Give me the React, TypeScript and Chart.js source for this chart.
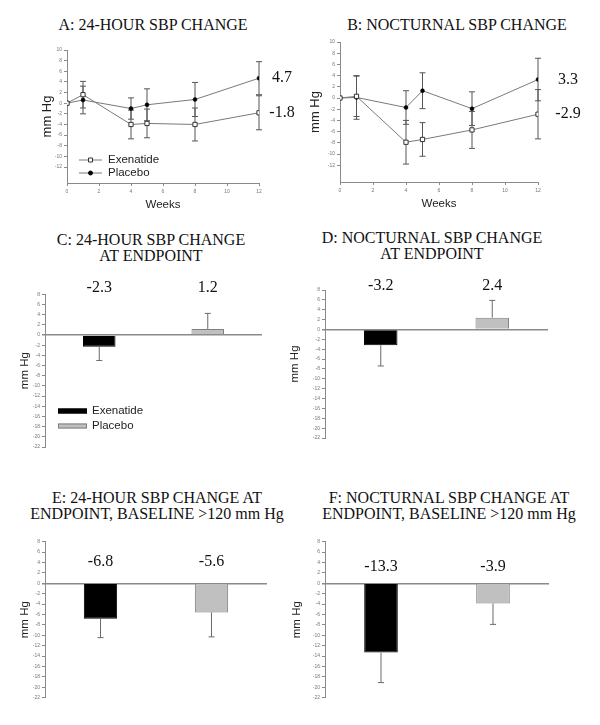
import React, { useEffect, useRef } from 'react';
import { Chart, registerables } from 'chart.js';

Chart.register(...registerables);

// ---------- DATA ----------
const weeks = [0, 1, 4, 5, 8, 12];

// Panel A: 24-hour SBP change over time
const exenA = [0, 1.6, -4.0, -3.8, -4.0, -1.8];
const exenAErr = [0, 2.5, 2.7, 2.7, 3.1, 3.2];
const placA = [0, 0.6, -1.0, -0.3, 0.7, 4.7];
const placAErr = [0, 2.6, 2.0, 3.0, 3.2, 3.1];

// Panel B: nocturnal SBP change over time
const exenB = [0, 0.3, -7.9, -7.4, -5.7, -2.9];
const exenBErr = [0, 3.6, 3.9, 3.0, 3.3, 4.4];
const placB = [0, 0.1, -1.7, 1.3, -1.9, 3.3];
const placBErr = [0, 3.9, 3.0, 3.2, 3.0, 3.8];

// Bar panels (Exenatide, Placebo)
const groups = ['Exenatide', 'Placebo'];
const barC = [-2.3, 1.2];
const barCErr = [2.7, 3.05];
const barD = [-3.2, 2.4];
const barDErr = [4.2, 3.5];
const barE = [-6.8, -5.6];
const barEErr = [3.65, 4.7];
const barF = [-13.3, -3.9];
const barFErr = [5.8, 4.0];

const lineYTickMin = -15;
const lineYTickMax = 10;
const barYMin = -22;
const barYMax = 8;

// ---------- STYLE ----------
const SANS = '"Liberation Sans", Arial, Helvetica, sans-serif';
const SERIF = '"Liberation Serif", "Times New Roman", Times, serif';
const AXIS = '#8a8a8a';
const TICKTXT = '#777';

const errorBarsPlugin = {
  id: 'errorBarsCustom',
  beforeDatasetsDraw(chart: any) {
    drawErrors(chart, 'line');
  },
  afterDatasetsDraw(chart: any) {
    drawErrors(chart, 'bar');
  },
};

function drawErrors(chart: any, kind: string) {
  const ctx = chart.ctx;
  const yScale = chart.scales.y;
  chart.data.datasets.forEach((ds: any, di: number) => {
    const meta = chart.getDatasetMeta(di);
    if (meta.type !== kind || !ds.errors) return;
    ctx.save();
    ctx.strokeStyle = ds.errorColor || '#555';
    ctx.lineWidth = 1;
    meta.data.forEach((el: any, i: number) => {
      const err = ds.errors[i];
      if (!err) return;
      const raw = ds.data[i];
      const v = typeof raw === 'number' ? raw : raw.y;
      const x = el.x;
      const cap = 3;
      let lo: number, hi: number;
      if (ds.errorMode === 'away') {
        lo = v;
        hi = v >= 0 ? v + err : v - err;
      } else {
        lo = v - err;
        hi = v + err;
      }
      const yLo = yScale.getPixelForValue(lo);
      const yHi = yScale.getPixelForValue(hi);
      ctx.beginPath();
      ctx.moveTo(x, yLo);
      ctx.lineTo(x, yHi);
      if (ds.errorMode === 'away') {
        ctx.moveTo(x - cap, yHi);
        ctx.lineTo(x + cap, yHi);
      } else {
        ctx.moveTo(x - cap, yLo);
        ctx.lineTo(x + cap, yLo);
        ctx.moveTo(x - cap, yHi);
        ctx.lineTo(x + cap, yHi);
      }
      ctx.stroke();
    });
    ctx.restore();
  });
}

function lineTextPlugin(labelOffset: number, legend: boolean) {
  return {
    id: 'lineText',
    afterDatasetsDraw(chart: any) {
      const ctx = chart.ctx;
      const area = chart.chartArea;
      const yScale = chart.scales.y;
      ctx.save();
      ctx.fillStyle = '#111';
      ctx.font = `16px ${SERIF}`;
      ctx.textAlign = 'center';
      ctx.textBaseline = 'middle';
      chart.data.datasets.forEach((ds: any) => {
        const last = ds.data[ds.data.length - 1].y;
        ctx.fillText(last.toFixed(1), area.right + labelOffset, yScale.getPixelForValue(last));
      });
      if (legend) {
        chart.data.datasets.forEach((ds: any, i: number) => {
          const y = area.top + 110 + i * 13;
          const x0 = area.left + 12;
          const x1 = area.left + 35;
          ctx.strokeStyle = ds.borderColor;
          ctx.lineWidth = 1;
          ctx.beginPath();
          ctx.moveTo(x0, y);
          ctx.lineTo(x1, y);
          ctx.stroke();
          const mx = (x0 + x1) / 2;
          ctx.fillStyle = ds.pointBackgroundColor;
          ctx.strokeStyle = ds.pointBorderColor;
          ctx.beginPath();
          if (ds.pointStyle === 'rect') {
            ctx.rect(mx - 2, y - 2, 4, 4);
          } else {
            ctx.arc(mx, y, 2, 0, Math.PI * 2);
          }
          ctx.fill();
          ctx.stroke();
          ctx.fillStyle = '#222';
          ctx.font = `11.5px ${SANS}`;
          ctx.textAlign = 'left';
          ctx.fillText(ds.label, area.left + 41, y);
        });
      }
      ctx.restore();
    },
  };
}

function barTextPlugin(labelLevel: number, legend: boolean) {
  return {
    id: 'barText',
    afterDatasetsDraw(chart: any) {
      const ctx = chart.ctx;
      const area = chart.chartArea;
      const yScale = chart.scales.y;
      const ds = chart.data.datasets[0];
      const meta = chart.getDatasetMeta(0);
      ctx.save();
      ctx.fillStyle = '#111';
      ctx.font = `16px ${SERIF}`;
      ctx.textAlign = 'center';
      ctx.textBaseline = 'middle';
      meta.data.forEach((el: any, i: number) => {
        ctx.fillText(ds.data[i].toFixed(1), el.x, yScale.getPixelForValue(labelLevel));
      });
      if (legend) {
        chart.data.labels.forEach((lab: string, i: number) => {
          const y = area.top + 116.7 + i * 15;
          ctx.fillStyle = ds.backgroundColor[i];
          ctx.strokeStyle = ds.borderColor[i];
          ctx.lineWidth = 1;
          ctx.fillRect(area.left + 13, y - 2.5, 29, 5);
          ctx.strokeRect(area.left + 13.5, y - 2, 28, 4);
          ctx.fillStyle = '#222';
          ctx.font = `11.5px ${SANS}`;
          ctx.textAlign = 'left';
          ctx.fillText(lab, area.left + 47, y);
        });
      }
      ctx.restore();
    },
  };
}

type Pad = { left: number; right: number; top: number; bottom: number };

function lineConfig(
  exen: number[], exenErr: number[], plac: number[], placErr: number[],
  pad: Pad, wy: number, hx: number, labelOffset: number, legend: boolean
): any {
  return {
    type: 'line',
    data: {
      datasets: [
        {
          label: 'Exenatide',
          data: weeks.map((w, i) => ({ x: w, y: exen[i] })),
          errors: exenErr,
          errorColor: '#555',
          borderColor: '#7a7a7a',
          borderWidth: 1,
          pointStyle: 'rect',
          pointRadius: 3,
          pointBackgroundColor: '#ffffff',
          pointBorderColor: '#333',
          pointBorderWidth: 1,
          fill: false,
          tension: 0,
        },
        {
          label: 'Placebo',
          data: weeks.map((w, i) => ({ x: w, y: plac[i] })),
          errors: placErr,
          errorColor: '#555',
          borderColor: '#7a7a7a',
          borderWidth: 1,
          pointStyle: 'circle',
          pointRadius: 2,
          pointBackgroundColor: '#000',
          pointBorderColor: '#000',
          pointBorderWidth: 0.5,
          fill: false,
          tension: 0,
        },
      ],
    },
    options: {
      responsive: false,
      maintainAspectRatio: false,
      animation: false,
      layout: { padding: pad },
      plugins: { legend: { display: false }, tooltip: { enabled: false } },
      scales: {
        x: {
          type: 'linear',
          min: 0,
          max: 12,
          ticks: { stepSize: 2, font: { size: 5, family: SANS }, color: TICKTXT, padding: 3, maxRotation: 0 },
          grid: { drawOnChartArea: false, tickLength: 3, color: AXIS },
          border: { color: AXIS },
          title: { display: true, text: 'Weeks', font: { size: 11.5, family: SANS }, color: '#222', padding: 0 },
          afterFit(s: any) { s.height = hx; },
        },
        y: {
          type: 'linear',
          min: lineYTickMin,
          max: lineYTickMax,
          ticks: { stepSize: 2, font: { size: 5, family: SANS }, color: TICKTXT, padding: 2 },
          afterBuildTicks(s: any) { s.ticks = s.ticks.filter((t: any) => t.value % 2 === 0); },
          grid: { drawOnChartArea: false, tickLength: 3, color: AXIS },
          border: { color: AXIS },
          title: { display: true, text: 'mm Hg', font: { size: 13, family: SANS }, color: '#222', padding: 0 },
          afterFit(s: any) { s.width = wy; },
        },
      },
    },
    plugins: [errorBarsPlugin, lineTextPlugin(labelOffset, legend)],
  };
}

function barConfig(vals: number[], errs: number[], pad: Pad, wy: number, labelLevel: number, legend: boolean): any {
  return {
    type: 'bar',
    data: {
      labels: groups,
      datasets: [
        {
          data: vals,
          errors: errs,
          errorMode: 'away',
          errorColor: '#6a6a6a',
          backgroundColor: ['#000000', '#c0c0c0'],
          borderColor: ['#000000', '#7f7f7f'],
          borderWidth: 1,
          barPercentage: 0.3,
          categoryPercentage: 1,
        },
      ],
    },
    options: {
      responsive: false,
      maintainAspectRatio: false,
      animation: false,
      layout: { padding: pad },
      plugins: { legend: { display: false }, tooltip: { enabled: false } },
      scales: {
        x: { display: false },
        y: {
          type: 'linear',
          min: barYMin,
          max: barYMax,
          ticks: { stepSize: 2, font: { size: 5, family: SANS }, color: TICKTXT, padding: 2 },
          grid: {
            drawOnChartArea: true,
            color: (c: any) => (c.tick && c.tick.value === 0 ? '#8a8a8a' : 'rgba(0,0,0,0)'),
            lineWidth: (c: any) => (c.tick && c.tick.value === 0 ? 1.5 : 1),
            tickColor: AXIS,
            tickLength: 3,
          },
          border: { color: AXIS },
          title: { display: true, text: 'mm Hg', font: { size: 11.5, family: SANS }, color: '#222', padding: 0 },
          afterFit(s: any) { s.width = wy; },
        },
      },
    },
    plugins: [errorBarsPlugin, barTextPlugin(labelLevel, legend)],
  };
}

function Panel(props: { left: number; top: number; width: number; height: number; config: () => any }) {
  const ref = useRef<HTMLCanvasElement | null>(null);
  useEffect(() => {
    if (!ref.current) return;
    const chart = new Chart(ref.current, props.config());
    return () => chart.destroy();
  }, []);
  return (
    <canvas
      ref={ref}
      width={props.width}
      height={props.height}
      style={{ position: 'absolute', left: props.left, top: props.top, width: props.width, height: props.height }}
    />
  );
}

function Title(props: { cx: number; cy: number; lines: string[] }) {
  return (
    <div
      style={{
        position: 'absolute',
        left: props.cx - 170,
        width: 340,
        top: props.cy - 8,
        textAlign: 'center',
        fontFamily: SERIF,
        fontSize: 16,
        lineHeight: '16px',
        color: '#111',
        whiteSpace: 'nowrap',
      }}
    >
      {props.lines.map((l, i) => (
        <div key={i}>{l}</div>
      ))}
    </div>
  );
}

export default function App() {
  return (
    <div style={{ position: 'absolute', left: 0, top: 0, width: 600, height: 725, background: '#fff', overflow: 'hidden' }}>
      <Title cx={153} cy={25} lines={['A: 24-HOUR SBP CHANGE']} />
      <Title cx={457} cy={25} lines={['B: NOCTURNAL SBP CHANGE']} />
      <Title cx={151} cy={240} lines={['C: 24-HOUR SBP CHANGE', 'AT ENDPOINT']} />
      <Title cx={432} cy={238} lines={['D: NOCTURNAL SBP CHANGE', 'AT ENDPOINT']} />
      <Title cx={157} cy={498} lines={['E: 24-HOUR SBP CHANGE AT', 'ENDPOINT, BASELINE >120 mm Hg']} />
      <Title cx={449} cy={498} lines={['F: NOCTURNAL SBP CHANGE AT', 'ENDPOINT, BASELINE >120 mm Hg']} />

      <Panel left={0} top={0} width={300} height={215}
        config={() => lineConfig(exenA, exenAErr, placA, placAErr, { left: 39.2, right: 41, top: 50, bottom: 3.4 }, 27.8, 28.6, 23, true)} />
      <Panel left={300} top={0} width={300} height={215}
        config={() => lineConfig(exenB, exenBErr, placB, placBErr, { left: 7.2, right: 62, top: 42, bottom: 4.4 }, 32.8, 28.6, 30, false)} />

      <Panel left={0} top={215} width={300} height={250}
        config={() => barConfig(barC, barCErr, { left: 18.4, right: 38, top: 79.3, bottom: 18 }, 26.6, 9.3, true)} />
      <Panel left={280} top={215} width={320} height={250}
        config={() => barConfig(barD, barDErr, { left: 8.4, right: 52, top: 75, bottom: 27 }, 36.6, 8.8, false)} />

      <Panel left={0} top={465} width={300} height={260}
        config={() => barConfig(barE, barEErr, { left: 18.4, right: 33, top: 76.7, bottom: 27.3 }, 26.6, 4.1, false)} />
      <Panel left={280} top={465} width={320} height={260}
        config={() => barConfig(barF, barFErr, { left: 10.4, right: 51, top: 76.7, bottom: 27.3 }, 34.6, 3.2, false)} />
    </div>
  );
}
